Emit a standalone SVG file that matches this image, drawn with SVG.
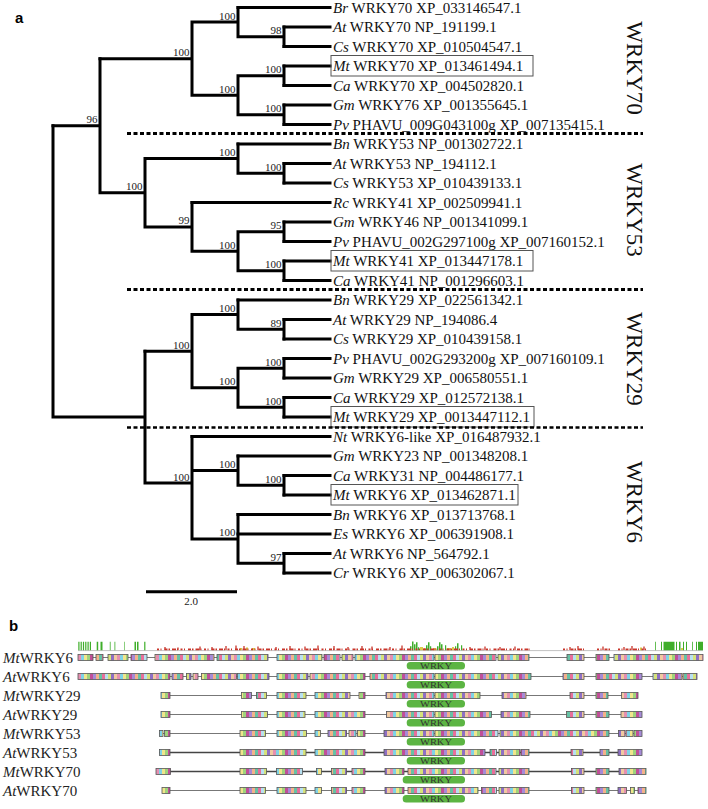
<svg xmlns="http://www.w3.org/2000/svg" width="708" height="809" viewBox="0 0 708 809">
<defs>
<pattern id="st" patternUnits="userSpaceOnUse" x="0" y="0" width="39" height="10">
<rect x="0" y="0" width="3" height="10" fill="#e58fb0"/>
<rect x="3" y="0" width="3" height="10" fill="#7fd3e6"/>
<rect x="6" y="0" width="3" height="10" fill="#f1e58c"/>
<rect x="9" y="0" width="3" height="10" fill="#9fd37c"/>
<rect x="12" y="0" width="3" height="10" fill="#c04f98"/>
<rect x="15" y="0" width="3" height="10" fill="#a68bd6"/>
<rect x="18" y="0" width="3" height="10" fill="#f3b28a"/>
<rect x="21" y="0" width="3" height="10" fill="#66c2a5"/>
<rect x="24" y="0" width="3" height="10" fill="#e86f9a"/>
<rect x="27" y="0" width="3" height="10" fill="#b7e0f0"/>
<rect x="30" y="0" width="3" height="10" fill="#d6e27a"/>
<rect x="33" y="0" width="3" height="10" fill="#8e6fc4"/>
<rect x="36" y="0" width="3" height="10" fill="#f0c9a0"/>
</pattern>
</defs>
<style>
.br{fill:none;stroke:#000;stroke-width:3;stroke-linecap:square}
.lf{font-family:"Liberation Serif","Times New Roman",serif;font-size:15px;fill:#111}
.it{font-style:italic}
.bs{font-family:"Liberation Serif","Times New Roman",serif;font-size:11px;fill:#222;text-anchor:end}
.box{fill:none;stroke:#555;stroke-width:1}
.dash{fill:none;stroke:#000;stroke-width:3;stroke-dasharray:4 2.5}
.grp{font-family:"Liberation Serif","Times New Roman",serif;font-size:23px;fill:#111;text-anchor:middle}
.pl{font-family:"Liberation Sans",Arial,sans-serif;font-weight:bold;font-size:15px;fill:#000}
.rl{font-family:"Liberation Serif","Times New Roman",serif;font-size:15px;fill:#222}
.trk{stroke:#777;stroke-width:1;fill:none}
.trkd{stroke:#444;stroke-width:1.3;fill:none}
.blk{fill:url(#st);stroke:#555;stroke-width:0.8}
.pill{fill:#5cb543}
.wk{font-family:"Liberation Serif","Times New Roman",serif;font-size:9px;fill:#333;text-anchor:middle}
</style>
<rect width="708" height="809" fill="#fff"/>

<text class="pl" x="15" y="23">a</text>
<text class="pl" x="9" y="631">b</text>

<g id="connectors">
<path class="br" d="M238 7.5H330M284 27H330M284 46.5H330M284 66H330M284 85.5H330M284 105H330M284 124.5H330M238 144H330M284 163.5H330M284 183H330M192 202.5H330M284 222H330M284 241.5H330M284 261H330M284 280.5H330M238 300H330M284 319.5H330M284 339H330M284 358.5H330M284 378H330M284 397.5H330M284 417H330M192 436.5H330M238 456H330M284 475.5H330M284 495H330M238 514.5H330M238 534H330M284 553.5H330M284 573H330"/>
<path class="br" d="M284 27V46.5M238 36.75H284M238 7.5V36.75M192 22.1H238M284 66V85.5M238 75.75H284M284 105V124.5M238 114.75H284M238 75.75V114.75M192 95.25H238M192 22.1V95.25M100 58.7H192"/>
<path class="br" d="M284 163.5V183M238 173.25H284M238 144V173.25M145 158.6H238M284 222V241.5M238 231.75H284M284 261V280.5M238 270.75H284M238 231.75V270.75M192 251.25H238M192 202.5V251.25M145 226.9H192M145 158.6V226.9M100 192.75H145M100 58.7V192.75M53 125.7H100"/>
<path class="br" d="M284 319.5V339M238 329.25H284M238 300V329.25M192 314.6H238M284 358.5V378M238 368.25H284M284 397.5V417M238 407.25H284M238 368.25V407.25M192 387.75H238M192 314.6V387.75M145 351.2H192"/>
<path class="br" d="M284 475.5V495M238 485.25H284M238 456V485.25M192 470.6H238M284 553.5V573M238 563.25H284M238 514.5V563.25M192 538.9H238M192 436.5V538.9M145 483H192M145 351.2V483M53 417.1H145M53 125.7V417.1"/>
</g>

<g id="support">
<text class="bs" x="281.5" y="34.2">98</text>
<text class="bs" x="235.5" y="19.6">100</text>
<text class="bs" x="281.5" y="73.2">100</text>
<text class="bs" x="281.5" y="112.2">100</text>
<text class="bs" x="235.5" y="92.7">100</text>
<text class="bs" x="189.5" y="56.2">100</text>
<text class="bs" x="281.5" y="170.7">100</text>
<text class="bs" x="235.5" y="156.1">100</text>
<text class="bs" x="281.5" y="229.2">95</text>
<text class="bs" x="281.5" y="268.2">100</text>
<text class="bs" x="235.5" y="248.7">100</text>
<text class="bs" x="189.5" y="224.4">99</text>
<text class="bs" x="142.5" y="190.2">100</text>
<text class="bs" x="97.5" y="123.2">96</text>
<text class="bs" x="281.5" y="326.7">89</text>
<text class="bs" x="235.5" y="312.1">100</text>
<text class="bs" x="281.5" y="365.7">100</text>
<text class="bs" x="281.5" y="404.7">100</text>
<text class="bs" x="235.5" y="385.2">100</text>
<text class="bs" x="189.5" y="348.7">100</text>
<text class="bs" x="281.5" y="482.7">100</text>
<text class="bs" x="235.5" y="468.1">100</text>
<text class="bs" x="281.5" y="560.7">97</text>
<text class="bs" x="235.5" y="536.4">100</text>
<text class="bs" x="189.5" y="480.5">100</text>
</g>

<g id="leaves" class="lf">
<g id="leaf-br70"><text x="333" y="12.5"><tspan class="it">Br</tspan> WRKY70 XP_033146547.1</text></g>
<g id="leaf-at70"><text x="333" y="32"><tspan class="it">At</tspan> WRKY70 NP_191199.1</text></g>
<g id="leaf-cs70"><text x="333" y="51.5"><tspan class="it">Cs</tspan> WRKY70 XP_010504547.1</text></g>
<g id="leaf-mt70"><rect class="box" x="331" y="55.5" width="202" height="20.5"/><text x="333" y="71"><tspan class="it">Mt</tspan> WRKY70 XP_013461494.1</text></g>
<g id="leaf-ca70"><text x="333" y="90.5"><tspan class="it">Ca</tspan> WRKY70 XP_004502820.1</text></g>
<g id="leaf-gm76"><text x="333" y="110"><tspan class="it">Gm</tspan> WRKY76 XP_001355645.1</text></g>
<g id="leaf-pv009"><text x="333" y="129.5"><tspan class="it">Pv</tspan> PHAVU_009G043100g XP_007135415.1</text></g>
<g id="leaf-bn53"><text x="333" y="149"><tspan class="it">Bn</tspan> WRKY53 NP_001302722.1</text></g>
<g id="leaf-at53"><text x="333" y="168.5"><tspan class="it">At</tspan> WRKY53 NP_194112.1</text></g>
<g id="leaf-cs53"><text x="333" y="188"><tspan class="it">Cs</tspan> WRKY53 XP_010439133.1</text></g>
<g id="leaf-rc41"><text x="333" y="207.5"><tspan class="it">Rc</tspan> WRKY41 XP_002509941.1</text></g>
<g id="leaf-gm46"><text x="333" y="227"><tspan class="it">Gm</tspan> WRKY46 NP_001341099.1</text></g>
<g id="leaf-pv297"><text x="333" y="246.5"><tspan class="it">Pv</tspan> PHAVU_002G297100g XP_007160152.1</text></g>
<g id="leaf-mt41"><rect class="box" x="331" y="250.5" width="202" height="20.5"/><text x="333" y="266"><tspan class="it">Mt</tspan> WRKY41 XP_013447178.1</text></g>
<g id="leaf-ca41"><text x="333" y="285.5"><tspan class="it">Ca</tspan> WRKY41 NP_001296603.1</text></g>
<g id="leaf-bn29"><text x="333" y="305"><tspan class="it">Bn</tspan> WRKY29 XP_022561342.1</text></g>
<g id="leaf-at29"><text x="333" y="324.5"><tspan class="it">At</tspan> WRKY29 NP_194086.4</text></g>
<g id="leaf-cs29"><text x="333" y="344"><tspan class="it">Cs</tspan> WRKY29 XP_010439158.1</text></g>
<g id="leaf-pv293"><text x="333" y="363.5"><tspan class="it">Pv</tspan> PHAVU_002G293200g XP_007160109.1</text></g>
<g id="leaf-gm29"><text x="333" y="383"><tspan class="it">Gm</tspan> WRKY29 XP_006580551.1</text></g>
<g id="leaf-ca29"><text x="333" y="402.5"><tspan class="it">Ca</tspan> WRKY29 XP_012572138.1</text></g>
<g id="leaf-mt29"><rect class="box" x="331" y="406.5" width="203" height="20.5"/><text x="333" y="422"><tspan class="it">Mt</tspan> WRKY29 XP_0013447112.1</text></g>
<g id="leaf-nt6"><text x="333" y="441.5"><tspan class="it">Nt</tspan> WRKY6-like XP_016487932.1</text></g>
<g id="leaf-gm23"><text x="333" y="461"><tspan class="it">Gm</tspan> WRKY23 NP_001348208.1</text></g>
<g id="leaf-ca31"><text x="333" y="480.5"><tspan class="it">Ca</tspan> WRKY31 NP_004486177.1</text></g>
<g id="leaf-mt6"><rect class="box" x="331" y="484.5" width="187" height="20.5"/><text x="333" y="500"><tspan class="it">Mt</tspan> WRKY6 XP_013462871.1</text></g>
<g id="leaf-bn6"><text x="333" y="519.5"><tspan class="it">Bn</tspan> WRKY6 XP_013713768.1</text></g>
<g id="leaf-es6"><text x="333" y="539"><tspan class="it">Es</tspan> WRKY6 XP_006391908.1</text></g>
<g id="leaf-at6"><text x="333" y="558.5"><tspan class="it">At</tspan> WRKY6 NP_564792.1</text></g>
<g id="leaf-cr6"><text x="333" y="578"><tspan class="it">Cr</tspan> WRKY6 XP_006302067.1</text></g>
</g>

<g id="separators">
<path class="dash" d="M127 133.5H643M127 289.5H643"/>
<path class="dash" style="stroke-width:2.5" d="M127 427.5H643"/>
</g>

<g id="groups">
<text class="grp" transform="translate(627 68) rotate(90)">WRKY70</text>
<text class="grp" transform="translate(627 210) rotate(90)">WRKY53</text>
<text class="grp" transform="translate(627 359) rotate(90)">WRKY29</text>
<text class="grp" transform="translate(627 502) rotate(90)">WRKY6</text>
</g>

<g id="scalebar">
<path d="M146 591.7H237" stroke="#000" stroke-width="3" fill="none"/>
<text class="bs" style="text-anchor:middle" x="191" y="605">2.0</text>
</g>

<g id="conservation">
<path d="M78 650.6H703" stroke="#999" stroke-width="0.6" fill="none"/>
<path fill="#3fae2a" d="M78.3 641.7h1.2v8.6h-1.2zM80.6 641.7h1.2v8.6h-1.2zM82.9 641.7h1.2v8.6h-1.2zM85.2 641.7h1.2v8.6h-1.2zM87.5 641.7h1.2v8.6h-1.2zM89.8 641.7h1.2v8.6h-1.2zM96.7 641.7h1.5v8.6h-1.5zM100.5 641.7h2v8.6h-2zM109.8 641.7h0.8v8.6h-0.8zM114.5 641.7h0.8v8.6h-0.8zM124.3 641.7h0.6v8.6h-0.6zM134.5 641.7h1.5v8.6h-1.5zM137 641.7h1.5v8.6h-1.5zM144.2 641.7h1.2v8.6h-1.2zM655 641.7h0.8v8.6h-0.8zM661 641.7h1v8.6h-1zM663.5 641.7h11v8.6h-11zM676 641.7h1v8.6h-1zM679 641.7h1.5v8.6h-1.5zM683 641.7h1v8.6h-1zM686 641.7h1v8.6h-1zM692 641.7h0.8v8.6h-0.8zM696 641.7h1v8.6h-1zM698 641.7h5v8.6h-5z"/>
<path fill="#3fae2a" d="M410 646.3h1.5v4h-1.5zM412 641.5h1.5v8.8h-1.5zM414 644.3h1.5v6h-1.5zM416 642.3h1.5v8h-1.5zM418 647.3h1.2v3h-1.2zM426 645.3h1.5v5h-1.5zM428 642.3h1.5v8h-1.5zM430 646.3h1.2v4h-1.2zM437 646.3h1.5v4h-1.5zM439 642.3h1.5v8h-1.5zM441 644.3h1.5v6h-1.5zM445 645.3h1.2v5h-1.2zM455 646.3h1.2v4h-1.2zM457 643.3h1.5v7h-1.5zM461 645.3h1.2v5h-1.2z"/>
<path fill="#d9c84a" d="M420 647h3v3.3h-3zM423.5 648h2v2.3h-2zM433 648h3v2.3h-3zM447 648h4v2.3h-4zM452 647h2v3.3h-2zM240 648h2v2.3h-2zM246 647.5h2v2.8h-2zM252 648h3v2.3h-3zM681 648h2v2.3h-2zM640 647.5h2v2.8h-2z"/>
<path d="M157 649.4H530M563 649.4H584M597 649.4H611M618 649.4H648" stroke="#c8352a" stroke-width="1.8" stroke-dasharray="2 1.5 1 3 3 1 1.5 2 4 1 1 2.5" fill="none"/>
<path d="M165 650V647M178 650V647.5M200 650V646.5M212 650V647M226 650V646M236 650V645.5M244 650V646M258 650V646.5M276 650V647M290 650V646M305 650V646.5M318 650V645.5M334 650V646M348 650V647M362 650V646M372 650V646.5M390 650V647M402 650V645.5M470 650V647M485 650V646.5M500 650V647M515 650V646.5M570 650V647M578 650V646M603 650V646.5M624 650V647M632 650V646M644 650V646.5" stroke="#c8352a" stroke-width="1.3" fill="none"/>
</g>

<g id="row-mtwrky6">
<text class="rl" x="3" y="663"><tspan class="it">Mt</tspan>WRKY6</text>
<path class="trk" d="M78 657.5H703"/>
<rect class="blk" x="78" y="654.5" width="15" height="6"/><rect class="blk" x="96" y="654.5" width="7" height="6"/><rect class="blk" x="108" y="654.5" width="20" height="6"/><rect class="blk" x="131" y="654.5" width="16" height="6"/><rect class="blk" x="155" y="654.5" width="59" height="6"/><rect class="blk" x="217" y="654.5" width="51" height="6"/><rect class="blk" x="277" y="654.5" width="45" height="6"/><rect class="blk" x="324" y="654.5" width="16" height="6"/><rect class="blk" x="342" y="654.5" width="11" height="6"/><rect class="blk" x="355" y="654.5" width="79" height="6"/><rect class="blk" x="435" y="654.5" width="61" height="6"/><rect class="blk" x="498" y="654.5" width="31" height="6"/><rect class="blk" x="567" y="654.5" width="17" height="6"/><rect class="blk" x="596" y="654.5" width="13" height="6"/><rect class="blk" x="614" y="654.5" width="89" height="6"/>
<rect class="pill" x="406.7" y="662" width="58.3" height="7.5" rx="3.5"/><text class="wk" x="436" y="668.8" textLength="32" lengthAdjust="spacingAndGlyphs">WRKY</text>
</g>

<g id="row-atwrky6">
<text class="rl" x="3" y="682"><tspan class="it">At</tspan>WRKY6</text>
<path class="trk" d="M78 676.5H697"/>
<rect class="blk" x="78" y="673.5" width="92" height="6"/><rect class="blk" x="172" y="673.5" width="11" height="6"/><rect class="blk" x="186.5" y="673.5" width="4.5" height="6"/><rect class="blk" x="193" y="673.5" width="5" height="6"/><rect class="blk" x="201.5" y="673.5" width="35" height="6"/><rect class="blk" x="237.5" y="673.5" width="31.5" height="6"/><rect class="blk" x="277" y="673.5" width="31" height="6"/><rect class="blk" x="310" y="673.5" width="55" height="6"/><rect class="blk" x="370" y="673.5" width="64" height="6"/><rect class="blk" x="435" y="673.5" width="96" height="6"/><rect class="blk" x="563" y="673.5" width="21" height="6"/><rect class="blk" x="596" y="673.5" width="46" height="6"/><rect class="blk" x="653" y="673.5" width="29" height="6"/><rect class="blk" x="683" y="673.5" width="14" height="6"/>
<rect class="pill" x="406.7" y="681" width="58.3" height="7.5" rx="3.5"/><text class="wk" x="436" y="687.8" textLength="32" lengthAdjust="spacingAndGlyphs">WRKY</text>
</g>

<g id="row-mtwrky29">
<text class="rl" x="3" y="701"><tspan class="it">Mt</tspan>WRKY29</text>
<path class="trk" d="M161 695.5H638"/>
<rect class="blk" x="161" y="692.5" width="9" height="6"/><rect class="blk" x="241.5" y="692.5" width="10" height="6"/><rect class="blk" x="256.5" y="692.5" width="10" height="6"/><rect class="blk" x="277" y="692.5" width="29" height="6"/><rect class="blk" x="315" y="692.5" width="35" height="6"/><rect class="blk" x="359" y="692.5" width="6" height="6"/><rect class="blk" x="386" y="692.5" width="48" height="6"/><rect class="blk" x="435" y="692.5" width="45" height="6"/><rect class="blk" x="502" y="692.5" width="24" height="6"/><rect class="blk" x="570" y="692.5" width="14" height="6"/><rect class="blk" x="596" y="692.5" width="12" height="6"/><rect class="blk" x="621.5" y="692.5" width="16.5" height="6"/>
<rect class="pill" x="406.7" y="700" width="58.3" height="7.5" rx="3.5"/><text class="wk" x="436" y="706.8" textLength="32" lengthAdjust="spacingAndGlyphs">WRKY</text>
</g>

<g id="row-atwrky29">
<text class="rl" x="3" y="720"><tspan class="it">At</tspan>WRKY29</text>
<path class="trk" d="M161 714.5H642"/>
<rect class="blk" x="161" y="711.5" width="9" height="6"/><rect class="blk" x="241.5" y="711.5" width="26" height="6"/><rect class="blk" x="277" y="711.5" width="28" height="6"/><rect class="blk" x="315" y="711.5" width="50" height="6"/><rect class="blk" x="386.5" y="711.5" width="47.5" height="6"/><rect class="blk" x="435" y="711.5" width="56.5" height="6"/><rect class="blk" x="501" y="711.5" width="29" height="6"/><rect class="blk" x="566.5" y="711.5" width="17.5" height="6"/><rect class="blk" x="596" y="711.5" width="13" height="6"/><rect class="blk" x="621" y="711.5" width="21" height="6"/>
<rect class="pill" x="406.7" y="719" width="58.3" height="7.5" rx="3.5"/><text class="wk" x="436" y="725.8" textLength="32" lengthAdjust="spacingAndGlyphs">WRKY</text>
</g>

<g id="row-mtwrky53">
<text class="rl" x="3" y="739"><tspan class="it">Mt</tspan>WRKY53</text>
<path class="trk" d="M159.5 733.5H642"/>
<rect class="blk" x="159.5" y="730.5" width="3.5" height="6"/><rect class="blk" x="164.5" y="730.5" width="5.5" height="6"/><rect class="blk" x="240" y="730.5" width="25.5" height="6"/><rect class="blk" x="277" y="730.5" width="29.5" height="6"/><rect class="blk" x="315" y="730.5" width="5.5" height="6"/><rect class="blk" x="328" y="730.5" width="18.5" height="6"/><rect class="blk" x="349" y="730.5" width="7" height="6"/><rect class="blk" x="357.5" y="730.5" width="7.5" height="6"/><rect class="blk" x="384" y="730.5" width="50" height="6"/><rect class="blk" x="435" y="730.5" width="63" height="6"/><rect class="blk" x="500" y="730.5" width="109" height="6"/><rect class="blk" x="618.5" y="730.5" width="6.5" height="6"/><rect class="blk" x="626" y="730.5" width="7" height="6"/><rect class="blk" x="634" y="730.5" width="8" height="6"/>
<rect class="pill" x="406.7" y="738" width="58.3" height="7.5" rx="3.5"/><text class="wk" x="436" y="744.8" textLength="32" lengthAdjust="spacingAndGlyphs">WRKY</text>
</g>

<g id="row-atwrky53">
<text class="rl" x="3" y="758"><tspan class="it">At</tspan>WRKY53</text>
<path class="trkd" d="M159.5 752.5H642"/>
<rect class="blk" x="159.5" y="749.5" width="10.5" height="6"/><rect class="blk" x="240" y="749.5" width="66" height="6"/><rect class="blk" x="315" y="749.5" width="50" height="6"/><rect class="blk" x="384" y="749.5" width="101" height="6"/><rect class="blk" x="490" y="749.5" width="6.5" height="6"/><rect class="blk" x="499" y="749.5" width="21" height="6"/><rect class="blk" x="521" y="749.5" width="8" height="6"/><rect class="blk" x="571" y="749.5" width="12" height="6"/><rect class="blk" x="600" y="749.5" width="9" height="6"/><rect class="blk" x="618" y="749.5" width="24" height="6"/>
<rect class="pill" x="406.7" y="757" width="58.3" height="7.5" rx="3.5"/><text class="wk" x="436" y="763.8" textLength="32" lengthAdjust="spacingAndGlyphs">WRKY</text>
</g>

<g id="row-mtwrky70">
<text class="rl" x="3" y="777"><tspan class="it">Mt</tspan>WRKY70</text>
<path class="trkd" d="M156 771.5H646"/>
<rect class="blk" x="156" y="768.5" width="14.5" height="6"/><rect class="blk" x="240" y="768.5" width="26.5" height="6"/><rect class="blk" x="276.5" y="768.5" width="26" height="6"/><rect class="blk" x="316.5" y="768.5" width="5" height="6"/><rect class="blk" x="331.5" y="768.5" width="15" height="6"/><rect class="blk" x="352" y="768.5" width="13" height="6"/><rect class="blk" x="385" y="768.5" width="19" height="6"/><rect class="blk" x="408" y="768.5" width="88" height="6"/><rect class="blk" x="499" y="768.5" width="30" height="6"/><rect class="blk" x="571.5" y="768.5" width="12.5" height="6"/><rect class="blk" x="596" y="768.5" width="13" height="6"/><rect class="blk" x="619" y="768.5" width="27" height="6"/>
<rect class="pill" x="402.7" y="776" width="62.3" height="7.5" rx="3.5"/><text class="wk" x="436" y="782.8" textLength="32" lengthAdjust="spacingAndGlyphs">WRKY</text>
</g>

<g id="row-atwrky70">
<text class="rl" x="3" y="796"><tspan class="it">At</tspan>WRKY70</text>
<path class="trk" d="M162 790.5H646"/>
<rect class="blk" x="162" y="787.5" width="8" height="6"/><rect class="blk" x="240" y="787.5" width="25.5" height="6"/><rect class="blk" x="277" y="787.5" width="29" height="6"/><rect class="blk" x="315" y="787.5" width="6.5" height="6"/><rect class="blk" x="331.5" y="787.5" width="15" height="6"/><rect class="blk" x="352" y="787.5" width="13" height="6"/><rect class="blk" x="385" y="787.5" width="19" height="6"/><rect class="blk" x="408" y="787.5" width="70" height="6"/><rect class="blk" x="481.5" y="787.5" width="15" height="6"/><rect class="blk" x="499" y="787.5" width="30" height="6"/><rect class="blk" x="571.5" y="787.5" width="12.5" height="6"/><rect class="blk" x="596" y="787.5" width="13" height="6"/><rect class="blk" x="618" y="787.5" width="8.5" height="6"/><rect class="blk" x="630.5" y="787.5" width="4" height="6"/><rect class="blk" x="638" y="787.5" width="8" height="6"/>
<rect class="pill" x="402.7" y="795" width="62.3" height="7.5" rx="3.5"/><text class="wk" x="436" y="801.8" textLength="32" lengthAdjust="spacingAndGlyphs">WRKY</text>
</g>
</svg>
